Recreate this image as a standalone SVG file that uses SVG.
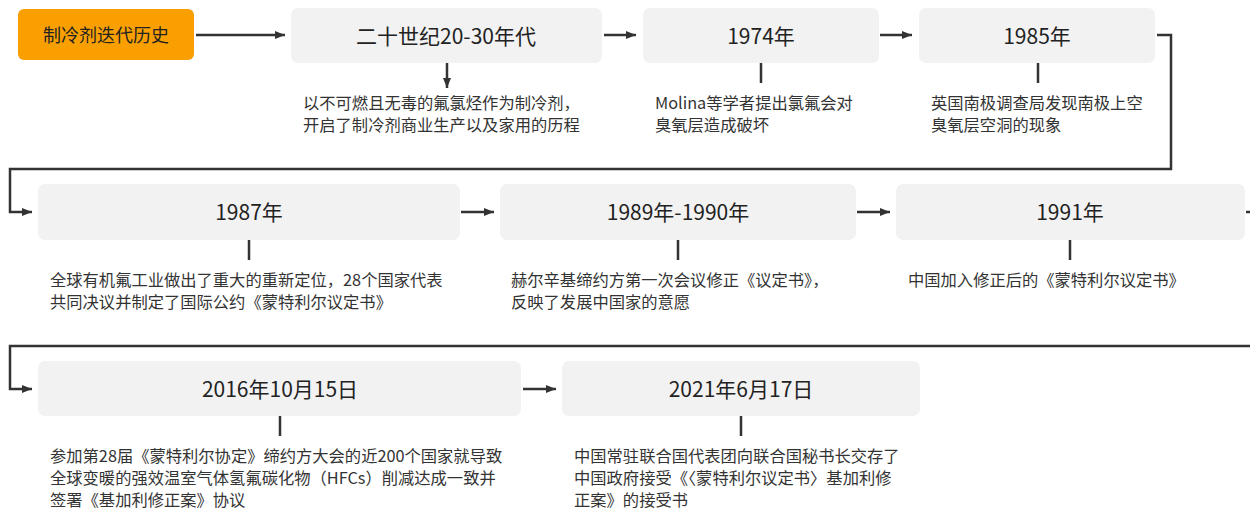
<svg xmlns="http://www.w3.org/2000/svg" width="1250" height="509" viewBox="0 0 1250 509">
<defs>
<marker id="ah" viewBox="0 0 10 10" refX="10" refY="5" markerWidth="4" markerHeight="4" orient="auto" markerUnits="strokeWidth">
<path d="M0,1 L10,5 L0,9 z" fill="#333"/>
</marker>
<style>
.box{fill:#F2F2F2;}
.start{fill:#F9A000;}
.hd{font-family:"Noto Sans CJK SC","Noto Sans",sans-serif;font-size:21px;fill:#222;text-anchor:middle;}
.tt{font-family:"Noto Sans CJK SC","Noto Sans",sans-serif;font-size:18px;fill:#222;text-anchor:middle;}
.bd{font-family:"Noto Sans CJK SC","Noto Sans",sans-serif;font-size:16.3px;fill:#333;}
.ln{stroke:#333;stroke-width:2.5;fill:none;}
.arr{stroke:#333;stroke-width:2.5;fill:none;marker-end:url(#ah);}
</style>
</defs>
<rect width="1250" height="509" fill="#fff"/>
<g id="connectors">
<path class="arr" d="M196,35 H285"/>
<path class="arr" d="M447,63 V88"/>
<path class="arr" d="M604,35 H636"/>
<path class="ln" d="M761,63 V83"/>
<path class="arr" d="M880,35 H912"/>
<path class="ln" d="M1038,63 V83"/>
<path class="arr" d="M1157,35 H1171 V169 H10 V212 H32"/>
<path class="ln" d="M249,240 V260"/>
<path class="arr" d="M461,212 H494"/>
<path class="ln" d="M678,240 V260"/>
<path class="arr" d="M857,212 H890"/>
<path class="ln" d="M1070,240 V260"/>
<path class="arr" d="M1246,212 H1262 V346 H10 V389 H32"/>
<path class="ln" d="M280,416 V436"/>
<path class="arr" d="M523,389 H556"/>
<path class="ln" d="M741,416 V436"/>
</g>
<g id="n0">
<rect class="start" x="18" y="9" width="176" height="51" rx="6"/>
<text class="tt" x="106" y="41.5">制冷剂迭代历史</text>
</g>
<g id="n1">
<rect class="box" x="291" y="8" width="311" height="55" rx="7"/>
<text class="hd" x="446" y="43.5">二十世纪20-30年代</text>
<text class="bd" x="303" y="109">以不可燃且无毒的氟氯烃作为制冷剂，</text>
<text class="bd" x="303" y="131">开启了制冷剂商业生产以及家用的历程</text>
</g>
<g id="n2">
<rect class="box" x="643" y="8" width="236" height="55" rx="7"/>
<text class="hd" x="761" y="43.5">1974年</text>
<text class="bd" x="655" y="109">Molina等学者提出氯氟会对</text>
<text class="bd" x="655" y="131">臭氧层造成破坏</text>
</g>
<g id="n3">
<rect class="box" x="919" y="8" width="236" height="55" rx="7"/>
<text class="hd" x="1037" y="43.5">1985年</text>
<text class="bd" x="931" y="109">英国南极调查局发现南极上空</text>
<text class="bd" x="931" y="131">臭氧层空洞的现象</text>
</g>
<g id="n4">
<rect class="box" x="38" y="184" width="422" height="56" rx="7"/>
<text class="hd" x="249" y="220">1987年</text>
<text class="bd" x="50" y="286">全球有机氟工业做出了重大的重新定位，28个国家代表</text>
<text class="bd" x="50" y="308">共同决议并制定了国际公约《蒙特利尔议定书》</text>
</g>
<g id="n5">
<rect class="box" x="500" y="184" width="356" height="56" rx="7"/>
<text class="hd" x="678" y="220">1989年-1990年</text>
<text class="bd" x="511" y="286">赫尔辛基缔约方第一次会议修正《议定书》，</text>
<text class="bd" x="511" y="308">反映了发展中国家的意愿</text>
</g>
<g id="n6">
<rect class="box" x="896" y="184" width="349" height="56" rx="7"/>
<text class="hd" x="1070" y="220">1991年</text>
<text class="bd" x="908" y="286">中国加入修正后的《蒙特利尔议定书》</text>
</g>
<g id="n7">
<rect class="box" x="38" y="361" width="483" height="55" rx="7"/>
<text class="hd" x="280" y="396.5">2016年10月15日</text>
<text class="bd" x="50" y="462">参加第28届《蒙特利尔协定》缔约方大会的近200个国家就导致</text>
<text class="bd" x="50" y="484">全球变暖的强效温室气体氢氟碳化物（HFCs）削减达成一致并</text>
<text class="bd" x="50" y="506">签署《基加利修正案》协议</text>
</g>
<g id="n8">
<rect class="box" x="562" y="361" width="358" height="55" rx="7"/>
<text class="hd" x="741" y="396.5">2021年6月17日</text>
<text class="bd" x="574" y="462">中国常驻联合国代表团向联合国秘书长交存了</text>
<text class="bd" x="574" y="484">中国政府接受《〈蒙特利尔议定书〉基加利修</text>
<text class="bd" x="574" y="506">正案》的接受书</text>
</g>
</svg>
